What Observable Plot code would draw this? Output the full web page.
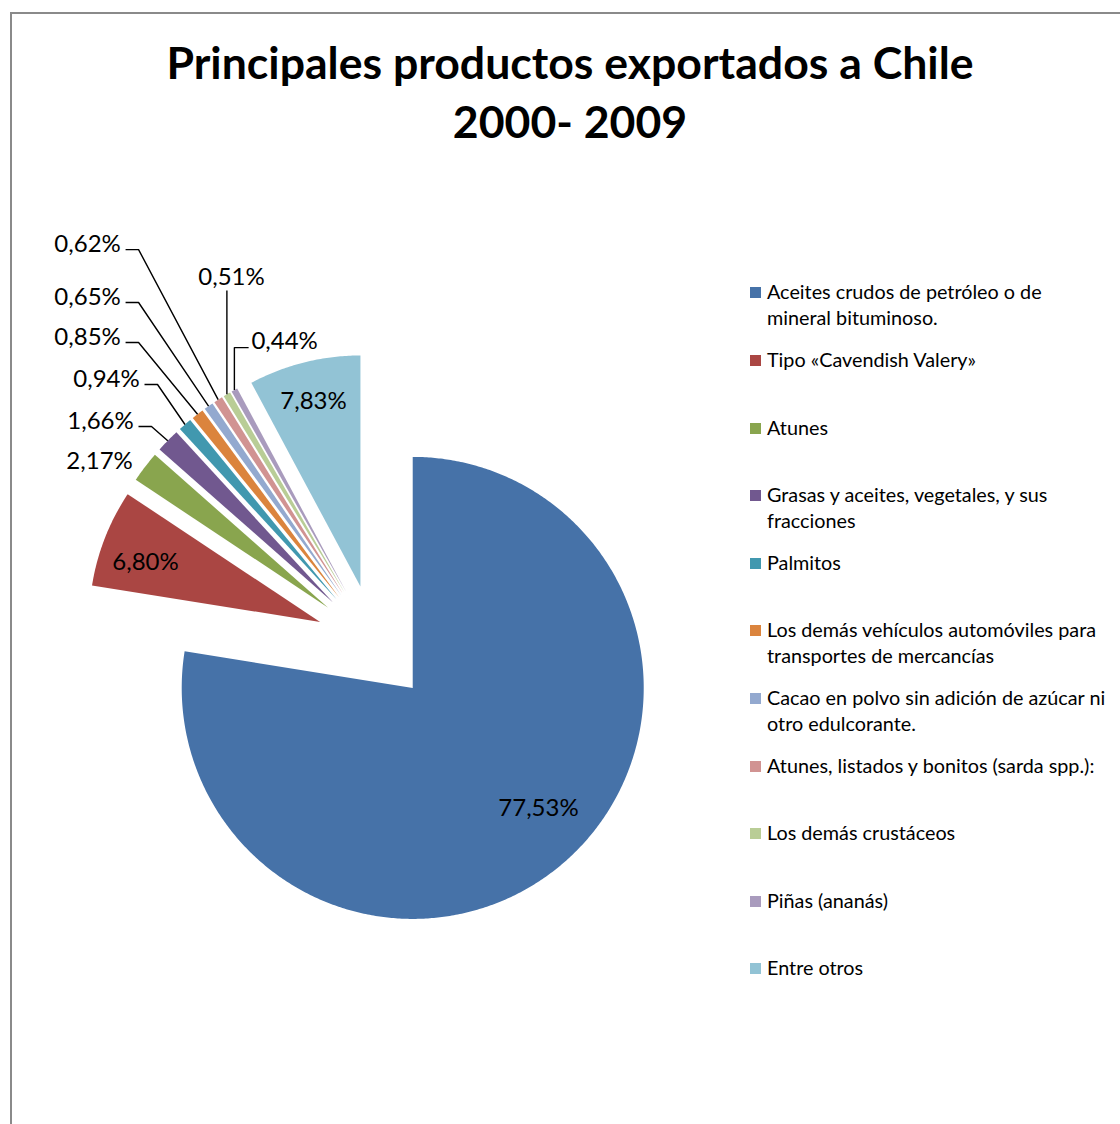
<!DOCTYPE html>
<html>
<head>
<meta charset="utf-8">
<script src="https://cdn.jsdelivr.net/npm/d3@7"></script>
<script src="https://cdn.jsdelivr.net/npm/@observablehq/plot@0.6"></script>
<style>
  html, body { margin: 0; padding: 0; background: #fff; }
  #wrap { position: relative; width: 1120px; height: 1124px; overflow: hidden; font-family: Lato, "Open Sans", sans-serif; color: #000; }
  #frame { position: absolute; left: 10px; top: 12px; width: 1300px; height: 1300px; border-left: 2px solid #8a8a8a; border-top: 2px solid #8a8a8a; box-sizing: border-box; }
  #title { position: absolute; left: 0; top: 32px; width: 1140px; text-align: center; font-weight: 700; font-size: 44.6px; line-height: 59px; margin: 0; }
  #chart { position: absolute; left: 0; top: 170px; }
  #legend { position: absolute; left: 750px; top: 0; }
  .item { position: absolute; left: 0; display: flex; align-items: flex-start; font-size: 19.8px; line-height: 26px; }
  .sw { width: 11px; height: 11px; margin-top: 9px; margin-right: 6px; flex: none; }
  .lab { width: 342px; }
</style>
</head>
<body>
<div id="wrap">
  <div id="frame"></div>
  <h1 id="title">Principales productos exportados a Chile<br>2000- 2009</h1>
  <div id="chart"></div>
  <div id="legend"></div>
</div>
<script>
// ---- data ----
const categories = [
  "Aceites crudos de petróleo o de mineral bituminoso.",
  "Tipo «Cavendish Valery»",
  "Atunes",
  "Grasas y aceites, vegetales, y sus fracciones",
  "Palmitos",
  "Los demás vehículos automóviles para transportes de mercancías",
  "Cacao en polvo sin adición de azúcar ni otro edulcorante.",
  "Atunes, listados y bonitos (sarda spp.):",
  "Los demás crustáceos",
  "Piñas (ananás)",
  "Entre otros"
];
const shares = [77.53, 6.80, 2.17, 1.66, 0.94, 0.85, 0.65, 0.62, 0.51, 0.44, 7.83];

// ---- styles ----
const colors = ["#4672A8", "#AA4643", "#89A54E", "#71588F", "#4198AF", "#DB843D",
                "#93A9CF", "#D19392", "#B9CD96", "#A99BBD", "#92C3D5"];

// ---- layout (label placement, in pie-radius units relative to pie centre) ----
const labelLayout = [
  {dx: 0.709, dy: -0.715, leader: null},
  {dx: -0.992, dy: 0.350, leader: null},
  {dx: -1.191, dy: 0.787, leader: null},
  {dx: -1.187, dy: 0.960, leader: "left"},
  {dx: -1.161, dy: 1.142, leader: "left"},
  {dx: -1.243, dy: 1.324, leader: "left"},
  {dx: -1.243, dy: 1.497, leader: "left"},
  {dx: -1.243, dy: 1.726, leader: "left"},
  {dx: -0.620, dy: 1.584, leader: "below"},
  {dx: -0.390, dy: 1.306, leader: "elbow"},
  {dx: -0.265, dy: 1.047, leader: null}
];

const W = 740, H = 954, PX = 231, CX = 374.2, CY = 472.8, EXPLODE = 0.2537;
const u = (p) => p / PX; // pixels -> radius units

const arcs = d3.pie().sort(null).value(d => d)(shares);

const slicePts = [];
const outer = [];
arcs.forEach((a, i) => {
  const cat = categories[i];
  const m = (a.startAngle + a.endAngle) / 2;
  const ox = EXPLODE * Math.sin(m), oy = EXPLODE * Math.cos(m);
  outer.push({x: ox + Math.sin(m), y: oy + Math.cos(m)});
  slicePts.push({cat, x: ox, y: oy});
  const n = Math.max(2, Math.ceil((a.endAngle - a.startAngle) / (Math.PI / 360)));
  for (let k = 0; k <= n; k++) {
    const t = a.startAngle + (a.endAngle - a.startAngle) * k / n;
    slicePts.push({cat, x: ox + Math.sin(t), y: oy + Math.cos(t)});
  }
});

const fmt = v => d3.format(".2f")(v).replace(".", ",") + "%";
const labels = shares.map((v, i) => ({text: fmt(v), x: labelLayout[i].dx, y: labelLayout[i].dy}));

const leaders = [];
labelLayout.forEach((L, i) => {
  const o = outer[i];
  if (L.leader === "left") {
    leaders.push({id: i, x: L.dx + u(38), y: L.dy - u(5)});
    leaders.push({id: i, x: L.dx + u(51), y: L.dy - u(5)});
    leaders.push({id: i, x: o.x, y: o.y});
  } else if (L.leader === "below") {
    leaders.push({id: i, x: o.x, y: L.dy - u(13)});
    leaders.push({id: i, x: o.x, y: o.y});
  } else if (L.leader === "elbow") {
    leaders.push({id: i, x: L.dx - u(36), y: L.dy - u(6)});
    leaders.push({id: i, x: o.x, y: L.dy - u(6)});
    leaders.push({id: i, x: o.x, y: o.y});
  }
});

const chart = Plot.plot({
  width: W,
  height: H,
  margin: 0,
  style: {background: "transparent", overflow: "visible"},
  x: {domain: [-CX / PX, (W - CX) / PX], range: [0, W], axis: null},
  y: {domain: [-(H - CY) / PX, CY / PX], range: [H, 0], axis: null},
  color: {domain: categories, range: colors},
  marks: [
    Plot.line(slicePts, {x: "x", y: "y", z: "cat", fill: "cat", stroke: "none", curve: "linear-closed"}),
    Plot.line(leaders, {x: "x", y: "y", z: "id", stroke: "#000", strokeWidth: 1.4, strokeLinecap: "butt", strokeLinejoin: "miter"}),
    Plot.text(labels, {x: "x", y: "y", text: "text", fontSize: 24, fill: "#000", fontFamily: "Lato, sans-serif"})
  ]
});
document.getElementById("chart").appendChild(chart);

// legend
const legend = document.getElementById("legend");
categories.forEach((c, i) => {
  const it = document.createElement("div");
  it.className = "item";
  it.style.top = (278.3 + 67.6 * i) + "px";
  const sw = document.createElement("div");
  sw.className = "sw";
  sw.style.background = colors[i];
  const lab = document.createElement("div");
  lab.className = "lab";
  lab.textContent = c;
  it.appendChild(sw);
  it.appendChild(lab);
  legend.appendChild(it);
});
</script>
</body>
</html>
